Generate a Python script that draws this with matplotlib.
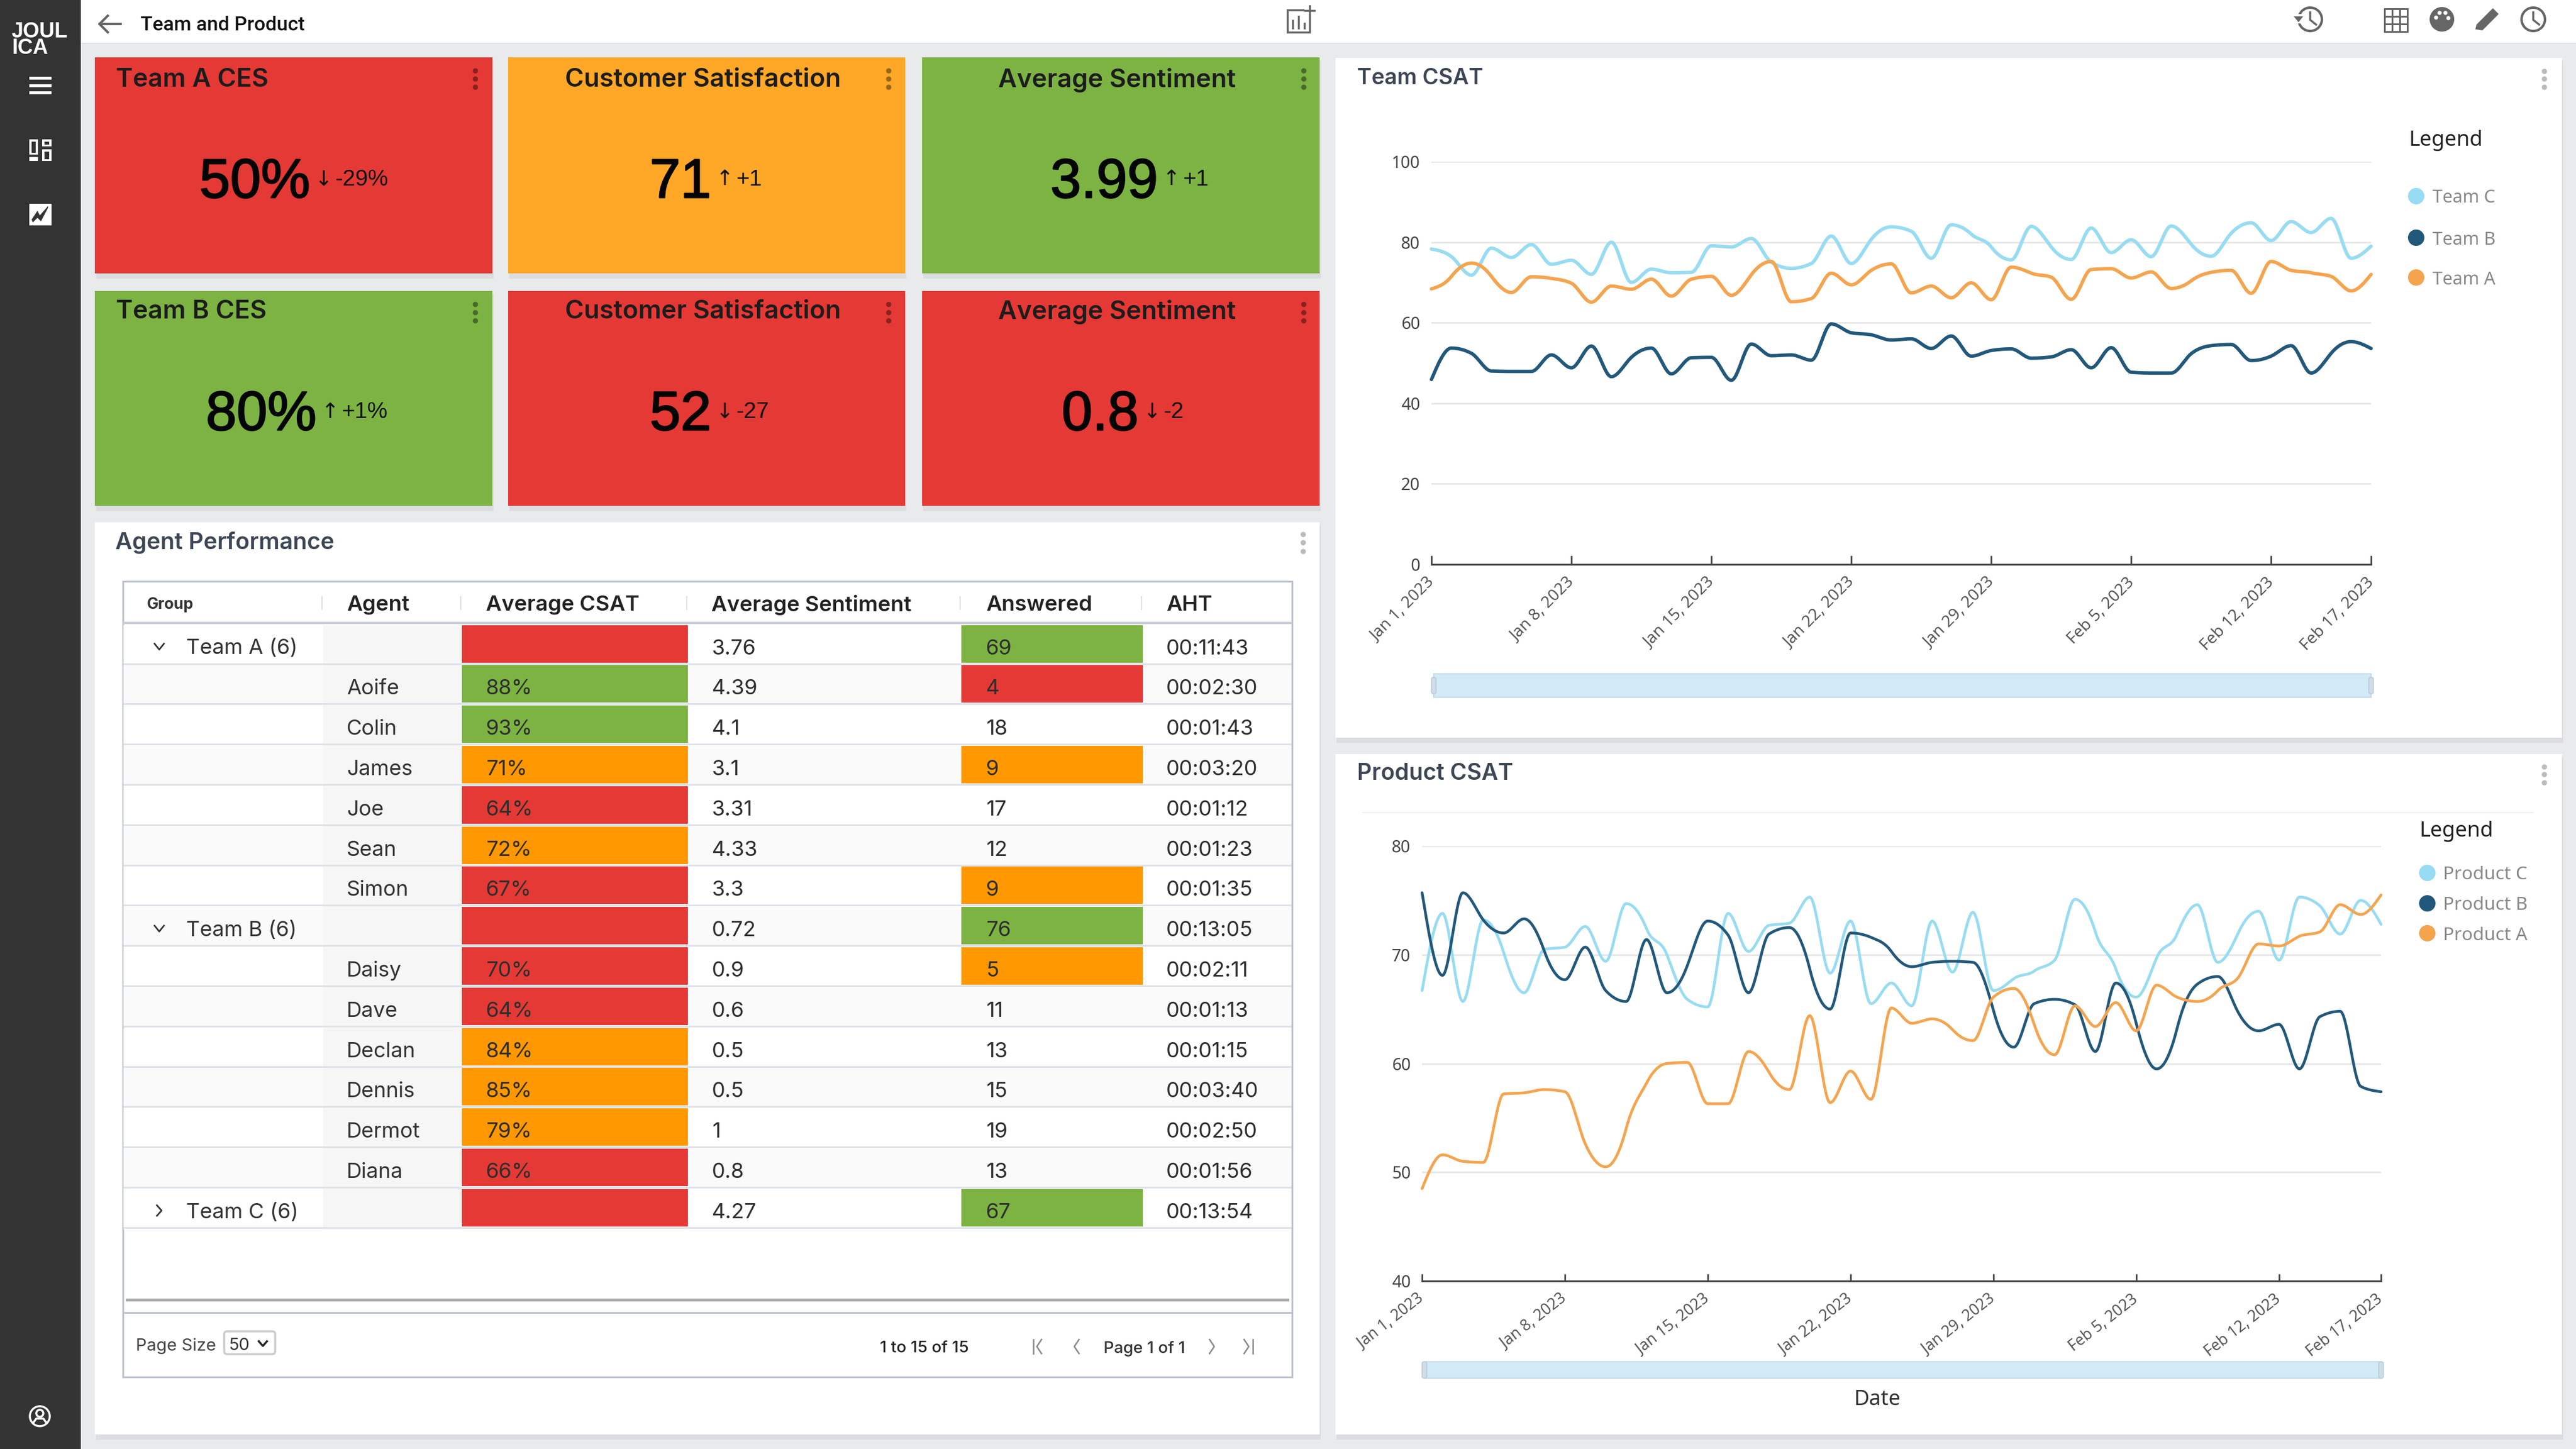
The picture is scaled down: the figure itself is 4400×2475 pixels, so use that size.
import numpy as np
import pandas as pd
import matplotlib
matplotlib.use("Agg")
import matplotlib.pyplot as plt
import matplotlib.dates as mdates
import matplotlib.patheffects as pe
from matplotlib.patches import Rectangle, Circle, FancyBboxPatch, Polygon

# ---------- data ----------
DATES = pd.date_range("2023-01-01", "2023-02-17", freq="D")
TICK_DATES = ["2023-01-01", "2023-01-08", "2023-01-15", "2023-01-22", "2023-01-29",
              "2023-02-05", "2023-02-12", "2023-02-17"]
TICK_LABELS = ["Jan 1, 2023", "Jan 8, 2023", "Jan 15, 2023", "Jan 22, 2023", "Jan 29, 2023",
               "Feb 5, 2023", "Feb 12, 2023", "Feb 17, 2023"]

team_c = [78.3, 76.4, 71.8, 78.5, 76.2, 79.4, 74.5, 75.5, 72.0, 80.0, 70.0, 73.3, 72.4, 72.5, 79.1, 78.8,
          80.9, 75.0, 73.5, 74.7, 81.5, 74.7, 80.7, 83.8, 82.7, 76.0, 84.3, 82.0, 78.8, 75.6, 83.9, 78.8,
          75.7, 83.5, 77.4, 80.6, 76.4, 84.0, 79.5, 76.5, 82.2, 84.8, 80.4, 85.1, 82.4, 85.9, 76.0, 79.0]
team_b = [45.9, 53.7, 52.4, 48.0, 47.9, 47.9, 52.0, 48.8, 54.2, 46.6, 51.4, 53.7, 47.3, 51.3, 51.4, 45.7,
          54.7, 51.8, 52.0, 50.7, 59.7, 57.5, 57.0, 55.7, 56.0, 53.6, 56.7, 51.7, 53.1, 53.5, 51.2, 51.5,
          53.3, 48.8, 53.8, 47.7, 47.5, 47.5, 52.3, 54.3, 54.6, 50.6, 51.7, 54.3, 47.5, 52.4, 55.3, 53.6]
team_a = [68.4, 71.5, 74.8, 71.5, 67.5, 71.4, 71.0, 69.8, 65.1, 69.1, 68.3, 70.8, 66.6, 70.8, 71.5, 66.8,
          71.9, 75.2, 65.2, 66.0, 72.3, 69.4, 73.0, 74.6, 67.4, 69.1, 66.2, 69.9, 65.7, 73.8, 72.3, 71.3,
          65.8, 73.2, 73.4, 71.1, 72.6, 68.5, 70.4, 72.5, 73.0, 67.3, 75.2, 73.0, 72.4, 71.5, 67.9, 72.0]

product_c = [66.7, 73.8, 65.7, 73.2, 70.2, 66.5, 70.5, 70.7, 72.6, 69.4, 74.7, 72.4, 70.0, 65.9, 65.2, 73.8,
             70.3, 72.7, 72.9, 75.3, 68.3, 73.1, 65.5, 67.4, 65.3, 73.1, 68.4, 73.9, 66.7, 67.8, 68.5, 69.5,
             75.1, 72.1, 68.7, 66.1, 69.7, 71.9, 74.6, 69.3, 72.0, 74.0, 69.5, 75.3, 74.5, 71.9, 75.0, 72.8]
product_b = [75.7, 68.1, 75.7, 73.2, 72.0, 73.3, 70.3, 67.7, 70.7, 66.7, 65.7, 71.4, 66.5, 69.0, 73.1, 71.8,
             66.5, 71.9, 72.5, 68.7, 65.0, 72.0, 71.6, 70.3, 68.9, 69.3, 69.4, 69.3, 64.9, 61.5, 65.5, 65.9,
             65.4, 61.1, 67.4, 63.7, 59.5, 63.2, 67.3, 68.0, 64.7, 63.0, 63.6, 59.5, 64.3, 64.8, 57.9, 57.4]
product_a = [48.5, 51.6, 51.0, 50.9, 57.2, 57.3, 57.6, 57.4, 52.6, 50.5, 54.0, 58.2, 60.0, 60.1, 56.3, 56.3,
             61.1, 59.2, 57.6, 64.4, 56.4, 59.3, 56.7, 65.1, 63.7, 64.1, 63.1, 62.1, 66.1, 66.9, 63.6, 60.8,
             65.3, 63.4, 65.6, 63.0, 67.2, 66.1, 65.7, 66.7, 67.9, 71.0, 70.8, 71.7, 72.1, 74.6, 73.7, 75.5]

tile_titles = ["Team A CES", "Customer Satisfaction", "Average Sentiment",
               "Team B CES", "Customer Satisfaction", "Average Sentiment"]
tile_values = ["50%", "71", "3.99", "80%", "52", "0.8"]
tile_arrows = ["↓", "↑", "↑", "↑", "↓", "↓"]
tile_deltas = ["-29%", "+1", "+1", "+1%", "-27", "-2"]

table_columns = ["Group", "Agent", "Average CSAT", "Average Sentiment", "Answered", "AHT"]
table_groups = ["Team A (6)", "", "", "", "", "", "", "Team B (6)", "", "", "", "", "", "", "Team C (6)"]
table_agents = ["", "Aoife", "Colin", "James", "Joe", "Sean", "Simon", "", "Daisy", "Dave", "Declan",
                "Dennis", "Dermot", "Diana", ""]
table_csat = ["", "88%", "93%", "71%", "64%", "72%", "67%", "", "70%", "64%", "84%", "85%", "79%", "66%", ""]
table_sentiment = ["3.76", "4.39", "4.1", "3.1", "3.31", "4.33", "3.3", "0.72", "0.9", "0.6", "0.5", "0.5",
                   "1", "0.8", "4.27"]
table_answered = ["69", "4", "18", "9", "17", "12", "9", "76", "5", "11", "13", "15", "19", "13", "67"]
table_aht = ["00:11:43", "00:02:30", "00:01:43", "00:03:20", "00:01:12", "00:01:23", "00:01:35", "00:13:05",
             "00:02:11", "00:01:13", "00:01:15", "00:03:40", "00:02:50", "00:01:56", "00:13:54"]
csat_state = ["r", "g", "g", "o", "r", "o", "r", "r", "r", "r", "o", "o", "o", "r", "r"]
answered_state = ["g", "r", "", "o", "", "", "o", "g", "o", "", "", "", "", "", "g"]

# ---------- styles ----------
RED, ORANGE_TILE, GREEN, ORANGE = "#e53935", "#ffa726", "#7cb342", "#ff9800"
STATE = {"r": RED, "g": GREEN, "o": ORANGE}
C_LIGHT, C_DARK, C_ORANGE = "#97dcf2", "#22587a", "#f5a44e"
BG = "#e9eaec"
TITLE_C = "#3d4654"
SIDE = "#333333"

fig = plt.figure(figsize=(44, 24.75), dpi=100, facecolor=BG)
bg = fig.add_axes([0, 0, 1, 1])
bg.set_xlim(0, 4400); bg.set_ylim(2475, 0); bg.axis("off")


def rect(x0, y0, x1, y1, color, **kw):
    bg.add_patch(Rectangle((x0, y0), x1 - x0, y1 - y0, facecolor=color, edgecolor=kw.pop("ec", "none"),
                           linewidth=kw.pop("lw", 0), **kw))


def txt(x, y, s, size, color="#222222", ha="left", family="Roboto", weight="normal", **kw):
    return bg.text(x, y, s, fontsize=size, color=color, ha=ha, va="center_baseline", family=family,
                   weight=weight, **kw)


def card(x0, y0, x1, y1, color="white"):
    rect(x0 + 2, y0 + 5, x1 + 2, y1 + 9, "#dcdde0")
    rect(x0, y0, x1, y1, color)


def dots(x, ys, color, r=4.5):
    for y in ys:
        bg.add_patch(Circle((x, y), r, color=color, lw=0))


# sidebar and top bar
rect(138, 0, 4400, 73, "white")
rect(138, 73, 4400, 75, "#e0e1e4")
rect(0, 0, 138, 2475, SIDE)
txt(19, 50, "JOUL", 26, "white", family="Liberation Sans", weight="bold")
txt(21, 78, "ICA", 26, "white", family="Liberation Sans", weight="bold")
for y in (133, 146, 158):
    rect(50, y - 2.5, 88, y + 3, "white")
for (a, b, c, d) in [(50, 238, 65, 264), (72, 238, 88, 250), (50, 268, 65, 275), (72, 255, 88, 275)]:
    rect(a, b, c, d, "white")
    rect(a + 4, b + 3.5, c - 4, d - 3.5, SIDE)
rect(50, 348, 88, 385, "white")
bg.add_patch(Polygon([[54, 375], [64, 360], [68, 368], [82, 352], [82, 355], [70, 378], [64, 372], [56, 380]],
                     color=SIDE, lw=0))
bg.add_patch(Circle((68, 2419), 17, fc="none", ec="white", lw=2.5))
bg.add_patch(Circle((68, 2414), 6, fc="none", ec="white", lw=2.5))
bg.plot([57, 62, 74, 79], [2430, 2423, 2423, 2430], color="white", lw=2.5)

bg.plot([170, 206], [41, 41], color="#666666", lw=3)
bg.plot([184, 170, 184], [27, 41, 55], color="#666666", lw=3)
txt(240, 40, "Team and Product", 24.5, "#111111", weight="medium")

# toolbar glyphs
ICON = "#666666"
bg.add_patch(Rectangle((2199, 17), 38, 38, fc="none", ec=ICON, lw=2.5))
rect(2228, 8, 2246, 28, "white")
bg.plot([2237, 2237], [10, 26], color=ICON, lw=2.5); bg.plot([2229, 2245], [18, 18], color=ICON, lw=2.5)
for x, y in [(2208, 35), (2218, 28), (2228, 40)]:
    bg.plot([x, x], [y, 48], color=ICON, lw=2.5)
for cx in (3946, 4327):
    bg.add_patch(Circle((cx, 33), 20, fc="none", ec=ICON, lw=3))
    bg.plot([cx, cx, cx + 10], [21, 34, 42], color=ICON, lw=2.5)
rect(3920, 24, 3932, 40, "white")
bg.add_patch(Polygon([[3918, 28], [3934, 28], [3926, 38]], color=ICON, lw=0))
rect(4072, 14, 4114, 56, ICON)
for i in range(3):
    for j in range(3):
        rect(4075 + 13 * i, 17 + 13 * j, 4085 + 13 * i, 27 + 13 * j, "white")
bg.add_patch(Circle((4171, 33), 21, color=ICON, lw=0))
for dx, dy in [(-10, -3), (-4, -11), (6, -11), (11, -2)]:
    bg.add_patch(Circle((4171 + dx, 33 + dy), 3.5, color="white", lw=0))
bg.add_patch(Polygon([[4228, 50], [4230, 42], [4258, 14], [4268, 24], [4240, 52]], color=ICON, lw=0))

# KPI tiles
TILES = [(162, 98, 841, 467, RED), (868, 98, 1546, 467, ORANGE_TILE), (1575, 98, 2254, 467, GREEN),
         (162, 497, 841, 864, GREEN), (868, 497, 1546, 864, RED), (1575, 497, 2254, 864, RED)]
TITLE_X = [(198, "left"), (1201, "center"), (1908, "center"), (198, "left"), (1201, "center"), (1908, "center")]
VAL_R = [530, 1215, 1978, 541, 1215, 1945]
DOT_X = [812, 1518, 2227, 812, 1518, 2227]
TITLE_Y = [132, 132, 132, 528, 528, 528]
VAL_Y = [303, 303, 303, 700, 700, 700]
for i, (x0, y0, x1, y1, col) in enumerate(TILES):
    card(x0, y0, x1, y1, col)
    tx, ha = TITLE_X[i]
    txt(tx, TITLE_Y[i], tile_titles[i], 31.5, "#1c1c1c", ha=ha, weight="semibold", family="Inter")
    dots(DOT_X[i], [y0 + 23, y0 + 37, y0 + 51], "#00000066")
    r = VAL_R[i]
    t = txt(r, VAL_Y[i], tile_values[i], 68, "#050505", ha="right", family="Liberation Sans")
    t.set_path_effects([pe.withStroke(linewidth=1.6, foreground="#050505")])
    txt(r + 23, VAL_Y[i], tile_arrows[i], 26, "#111111", ha="center", family="DejaVu Sans")
    txt(r + 42, VAL_Y[i], tile_deltas[i], 28, "#111111", family="Liberation Sans")

# agent panel
card(162, 892, 2254, 2450)
txt(197, 923, "Agent Performance", 28.5, TITLE_C, weight="semibold", family="Inter")
dots(2226, [913, 927, 942], "#bbbbbb")
TB_L, TB_R, TB_T, TB_B = 210, 2207, 993, 2352
COLS = [211, 552, 789, 1175, 1642, 1952, 2207]
TEXT_X = [318, 592, 830, 1216, 1684, 1992]
HEAD_X = [251, 592, 830, 1215, 1684, 1992]
bg.add_patch(Rectangle((TB_L, TB_T), TB_R - TB_L, TB_B - TB_T, fc="white", ec="#bcc2cc", lw=2.2))
rect(TB_L, 1062, TB_R, 1066, "#c9ced6")
for i, c in enumerate(table_columns):
    if i == 0:
        txt(HEAD_X[i], 1030, c, 19, "#333333", weight="bold", family="Inter")
    else:
        txt(HEAD_X[i], 1030, c, 26.5, "#222222", weight="semibold", family="Inter")
for cx in COLS[1:-1]:
    rect(cx - 3, 1018, cx - 1, 1042, "#dde0e4")
ROW_T, ROW_H = 1067.5, 68.8
for i in range(len(table_aht)):
    top = ROW_T + i * ROW_H
    bot = top + ROW_H
    rect(TB_L + 1, top, TB_R - 1, bot, "#fafafa" if i % 2 else "white")
    rect(COLS[1], top, COLS[2], bot, "#f6f6f6")
    if csat_state[i]:
        rect(COLS[2], top, COLS[3], top + 64, STATE[csat_state[i]])
    if answered_state[i]:
        rect(COLS[4], top, COLS[5], top + 64, STATE[answered_state[i]])
    rect(TB_L + 1, top + 65, TB_R - 1, top + 68, "#dde2eb")
    cy = top + 37
    ink = "#2e2e2e"
    if table_groups[i]:
        txt(TEXT_X[0], cy, table_groups[i], 26, "#333333", family="Inter")
        if i < 14:
            bg.plot([264, 272, 280], [cy - 5, cy + 5, cy - 5], color="#333333", lw=2)
        else:
            bg.plot([268, 276, 268], [cy - 9, cy, cy + 9], color="#333333", lw=2)
    txt(TEXT_X[1], cy, table_agents[i], 26, "#333333", family="Inter")
    txt(TEXT_X[2], cy, table_csat[i], 26, ink, family="Inter")
    txt(TEXT_X[3], cy, table_sentiment[i], 26, ink, family="Inter")
    txt(TEXT_X[4], cy, table_answered[i], 26, ink, family="Inter")
    txt(TEXT_X[5], cy, table_aht[i], 26, ink, family="Inter")
rect(215, 2218, 2202, 2223, "#aaaaaa")
rect(TB_L, 2241, TB_R, 2243.5, "#bcc2cc")
txt(232, 2296, "Page Size", 21, "#444444", family="Inter")
bg.add_patch(FancyBboxPatch((383, 2274), 87, 39, boxstyle="round,pad=0,rounding_size=5", fc="white", ec="#cccccc", lw=2.5))
txt(391, 2295, "50", 21, "#333333", family="Inter")
bg.plot([442, 449, 456], [2291, 2299, 2291], color="#222222", lw=2.5)
txt(1503, 2300, "1 to 15 of 15", 20, "#222222", family="Inter", weight="medium")
txt(1885, 2301, "Page 1 of 1", 20, "#333333", family="Inter", weight="medium")
bg.plot([1765, 1765], [2288, 2312], color="#888888", lw=1.8)
bg.plot([1779, 1771, 1779], [2288, 2300, 2312], color="#888888", lw=1.8)
bg.plot([1843, 1835, 1843], [2288, 2300, 2312], color="#888888", lw=1.8)
bg.plot([2066, 2074, 2066], [2288, 2300, 2312], color="#888888", lw=1.8)
bg.plot([2125, 2133, 2125], [2288, 2300, 2312], color="#888888", lw=1.8)
bg.plot([2140, 2140], [2288, 2312], color="#888888", lw=1.8)

# chart panels
card(2281, 99, 4376, 1260)
txt(2318, 130, "Team CSAT", 27, TITLE_C, weight="semibold", family="Inter")
dots(4346, [122, 135, 149], "#bbbbbb")
card(2281, 1288, 4376, 2450)
txt(2318, 1318, "Product CSAT", 28, TITLE_C, weight="semibold", family="Inter")
dots(4346, [1310, 1323, 1337], "#bbbbbb")
rect(2327, 1387, 4328, 1389, "#efefef")


def smooth(y, n=24):
    """Monotone cubic curve through the read values (the rendering of the line)."""
    y = np.asarray(y, float)
    x = np.arange(len(y), dtype=float)
    s = np.diff(y)
    m = np.zeros_like(y)
    m[1:-1] = (np.sign(s[:-1]) + np.sign(s[1:])) * np.minimum.reduce(
        [np.abs(s[:-1]), np.abs(s[1:]), 0.5 * np.abs(s[:-1] + s[1:])])
    m[0], m[-1] = (3 * s[0] - m[1]) / 2, (3 * s[-1] - m[-2]) / 2
    t = np.linspace(0, 1, n, endpoint=False)[None, :]
    p0, p1, m0, m1 = y[:-1, None], y[1:, None], m[:-1, None], m[1:, None]
    yy = (2*t**3 - 3*t**2 + 1)*p0 + (t**3 - 2*t**2 + t)*m0 + (-2*t**3 + 3*t**2)*p1 + (t**3 - t**2)*m1
    xx = x[:-1, None] + t
    return np.append(xx.ravel(), x[-1]), np.append(yy.ravel(), y[-1])


def line_chart(px, series, ylim, yticks, lw, label_size, tick_len, rotation):
    x0, y_top, x1, y_bot = px
    ax = fig.add_axes([x0 / 4400, 1 - y_bot / 2475, (x1 - x0) / 4400, (y_bot - y_top) / 2475], facecolor="none")
    start = mdates.date2num(DATES[0])
    for values, color in series:
        xs, ys = smooth(values)
        ax.plot(start + xs, ys, color=color, lw=lw, solid_capstyle="round", clip_on=False, zorder=3)
    ax.set_xlim(mdates.date2num(DATES[0]), mdates.date2num(DATES[-1]))
    ax.set_ylim(*ylim)
    ax.set_yticks(yticks)
    ticks = mdates.date2num(pd.to_datetime(TICK_DATES))
    ax.set_xticks(ticks)
    ax.set_xticklabels([])
    for tk, label in zip(ticks, TICK_LABELS):
        ax.annotate(label, xy=(tk, 0), xycoords=("data", "axes fraction"), xytext=(-9, -17),
                    textcoords="offset pixels", rotation=rotation, ha="right", va="top",
                    rotation_mode="anchor", fontsize=label_size, color="#555555", family="Noto Sans")
    ax.grid(axis="y", color="#e8e8e8", lw=2.2)
    ax.set_axisbelow(True)
    for s in ("top", "left", "right"):
        ax.spines[s].set_visible(False)
    ax.spines["bottom"].set_color("#444444"); ax.spines["bottom"].set_linewidth(2.2)
    ax.tick_params(axis="y", length=0, pad=14, labelsize=20.5, labelcolor="#444444")
    ax.tick_params(axis="x", direction="in", length=tick_len, width=2, color="#444444")
    for l in ax.get_yticklabels():
        l.set_family("Noto Sans")
    return ax


line_chart((2445, 276, 4050, 964), [(team_c, C_LIGHT), (team_a, C_ORANGE), (team_b, C_DARK)],
           (0, 100), [0, 20, 40, 60, 80, 100], 4.2, 20, 11, 45)
line_chart((2429, 1445, 4067, 2188), [(product_c, C_LIGHT), (product_b, C_DARK), (product_a, C_ORANGE)],
           (40, 80), [40, 50, 60, 70, 80], 3.4, 19, 9, 38)


def slider(x0, x1, y0, y1):
    rect(x0, y0, x1, y1, "#d2e9f6", ec="#c2dcec", lw=1.5)
    for x in (x0, x1):
        bg.add_patch(FancyBboxPatch((x - 4, (y0 + y1) / 2 - 14), 8, 28, boxstyle="round,pad=0,rounding_size=3",
                                    fc="#cfdde8", ec="#b5c8d6", lw=1))


slider(2449, 4050, 1151, 1191)
slider(2433, 4067, 2326, 2354)
txt(3206, 2386, "Date", 26, "#333333", ha="center", family="Noto Sans", weight="medium")


def legend(xt, xd, xl, yt, ys, labels, size):
    txt(xt, yt, "Legend", 26, "#222222", family="Noto Sans", weight="medium")
    for y, lab, col in zip(ys, labels, (C_LIGHT, C_DARK, C_ORANGE)):
        bg.add_patch(Circle((xd, y), 14, color=col, lw=0))
        txt(xl, y, lab, size, "#888888", family="Noto Sans")


legend(4115, 4127, 4155, 236, (335, 406, 474), ("Team C", "Team B", "Team A"), 22)
legend(4133, 4146, 4173, 1415, (1491, 1543, 1594), ("Product C", "Product B", "Product A"), 22.5)

fig.savefig("out.png", dpi=100, facecolor=BG)
